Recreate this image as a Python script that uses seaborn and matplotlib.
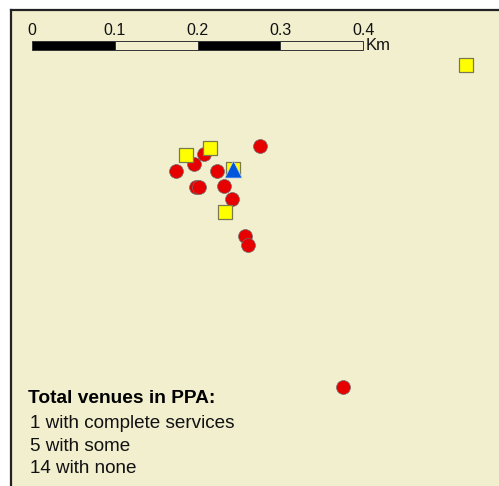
import matplotlib
matplotlib.use("Agg")
import matplotlib.pyplot as plt
import pandas as pd
import seaborn as sns

# map positions, in image pixels
none_x = [260, 204, 194, 176, 217, 196, 199, 224, 232, 245, 248, 343]
none_y = [146, 154, 164, 171, 171, 187, 187, 186, 199, 236, 245, 387]
some_x = [186, 210, 233, 225, 466]
some_y = [155, 148, 169, 212, 65]
complete_x = [233]
complete_y = [169]

scale_km = [0, 0.1, 0.2, 0.3, 0.4]
scale_labels = ["0", "0.1", "0.2", "0.3", "0.4"]
scale_fill = ["black", "#F2EFCF", "black", "#F2EFCF"]

title_text = "Total venues in PPA:"
count_lines = ["1 with complete services", "5 with some", "14 with none"]

BACKGROUND = "#F2EFCF"
PX_PER_KM = 828
SCALE_LEFT = 32

sns.set_theme(style="white")
plt.rcParams["font.family"] = ["Liberation Sans", "DejaVu Sans"]

fig = plt.figure(figsize=(4.99, 4.86), dpi=100)
ax = fig.add_axes([11 / 499, 0, 488 / 499, 476 / 486])
ax.set_facecolor(BACKGROUND)
ax.set_xlim(11, 499)
ax.set_ylim(486, 10)
ax.set_xticks([])
ax.set_yticks([])
for side in ["right", "bottom"]:
    ax.spines[side].set_visible(False)
for side in ["left", "top"]:
    ax.spines[side].set_color("#222222")
    ax.spines[side].set_linewidth(1.6)

none_df = pd.DataFrame({"x": none_x, "y": none_y})
some_df = pd.DataFrame({"x": some_x, "y": some_y})
complete_df = pd.DataFrame({"x": complete_x, "y": complete_y})

sns.scatterplot(data=none_df, x="x", y="y", ax=ax, marker="o", s=100, color="#E60000",
                edgecolor="#6E6E6E", linewidth=0.5, zorder=3)
sns.scatterplot(data=some_df, x="x", y="y", ax=ax, marker="s", s=88, color="#FFFF00",
                edgecolor="#7A7A50", linewidth=0.9, zorder=4)
sns.scatterplot(data=complete_df, x="x", y="y", ax=ax, marker="^", s=150, color="#0055DD",
                edgecolor="#BFD0E8", linewidth=0.5, zorder=5)
ax.set_xlabel("")
ax.set_ylabel("")

# scale bar
for i, fill in enumerate(scale_fill):
    left = SCALE_LEFT + scale_km[i] * PX_PER_KM
    width = (scale_km[i + 1] - scale_km[i]) * PX_PER_KM
    ax.barh(45.5, width, left=left, height=9, color=fill, edgecolor="#333333", linewidth=0.7, zorder=2)
for km, label in zip(scale_km, scale_labels):
    ax.text(SCALE_LEFT + km * PX_PER_KM, 35, label, ha="center", va="baseline", fontsize=11.5, color="#111111")
ax.text(366, 50, "Km", ha="left", va="baseline", fontsize=12, color="#111111")

# venue counts
ax.text(28, 403, title_text, ha="left", va="baseline", fontsize=13.8, fontweight="bold", color="black")
for line, y in zip(count_lines, [428, 451, 473]):
    ax.text(30, y, line, ha="left", va="baseline", fontsize=13.6, color="#111111")

fig.savefig("out.png", dpi=100)
